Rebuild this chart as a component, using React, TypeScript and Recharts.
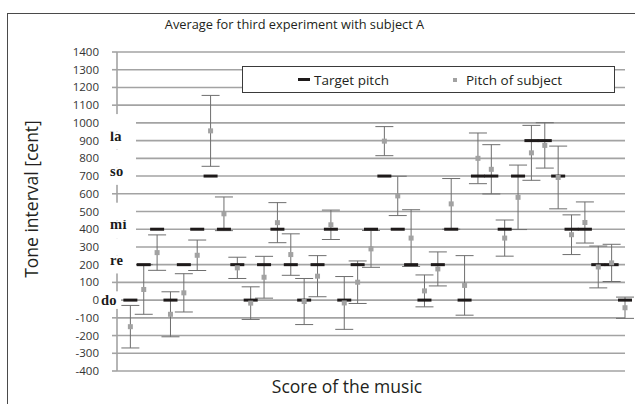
import {
  CartesianGrid,
  ComposedChart,
  ErrorBar,
  Legend,
  Scatter,
  XAxis,
  YAxis,
} from 'recharts'

// target pitch of each note in the score (cent)
const targetPitch = [
  0, 200, 400, 0, 200, 400, 700, 400, 200, 0, 200, 400, 200, 0, 200, 400, 0, 200,
  400, 700, 400, 200, 0, 200, 400, 0, 700, 700, 400, 700, 900, 900, 700, 400, 400,
  200, 200, 0,
]

// mean pitch sung by subject A (cent)
const subjectPitch = [
  -150, 60, 268, -80, 41, 253, 955, 487, 182, -17, 129, 437, 257, -8, 135, 425, -16,
  101, 289, 897, 588, 350, 52, 176, 543, 83, 800, 738, 350, 580, 831, 873, 692, 369,
  438, 187, 210, -43,
]

// spread of the subject's pitch (cent)
const subjectSpread = [
  120, 140, 100, 127, 108, 86, 200, 95, 60, 92, 118, 113, 117, 130, 116, 83, 149, 120,
  104, 82, 111, 160, 90, 96, 143, 168, 143, 139, 102, 182, 155, 128, 177, 112, 116,
  118, 105, 60,
]

const yTicks = [
  -400, -300, -200, -100, 0, 100, 200, 300, 400, 500, 600, 700, 800, 900, 1000, 1100,
  1200, 1300, 1400,
]

const solfegeNames = ['do', 're', 'mi', 'so', 'la']
const solfegeCents = [0, 200, 400, 700, 900]

const legendOrder = ['target', 'subject']

// ticks hidden behind the white text boxes of the original sheet
const hiddenTicks = new Set([0, 200, 300, 400, 500, 700, 800, 900, 1000])

const rows = targetPitch.map((t, i) => ({
  note: i + 1,
  target: t,
  subject: subjectPitch[i],
  spread: subjectSpread[i],
}))

const font = '"Open Sans", sans-serif'
const gridColor = '#a3a3a3'

function TargetMark(props: any) {
  const { cx, cy } = props
  return <rect x={cx - 7} y={cy - 1.5} width={14} height={3} fill="#1e1a1a" />
}

function SubjectMark(props: any) {
  const { cx, cy } = props
  return <rect x={cx - 2.5} y={cy - 2.5} width={5} height={5} fill="#a2a2a2" />
}

function CentTick(props: any) {
  const { x, y, payload } = props
  const v = payload.value as number
  const idx = solfegeCents.indexOf(v)
  const masked = hiddenTicks.has(v)
  return (
    <g>
      {masked && (
        <rect
          x={x + 2}
          y={y - 8.8}
          width={v === 0 ? 20 : 35}
          height={17.6}
          fill="#fff"
        />
      )}
      <text
        x={x}
        y={y}
        dy={4}
        textAnchor="end"
        fontFamily={font}
        fontSize={11.5}
        fill="#333"
      >
        {v}
      </text>
      {idx >= 0 && (
        <text
          x={v === 0 ? x + 2 : x + 11}
          y={v === 0 ? y + 4.5 : y}
          fontFamily='"Liberation Serif", serif'
          fontWeight="bold"
          fontSize={14.5}
          letterSpacing={0.3}
          fill="#1a1a1a"
        >
          {solfegeNames[idx]}
        </text>
      )}
    </g>
  )
}

function LegendBox(props: any) {
  const items = props.payload || []
  const ordered = legendOrder
    .map((k) => items.find((it: any) => it.dataKey === k))
    .filter(Boolean)
  return (
    <div
      style={{
        height: 27,
        boxSizing: 'border-box',
        border: '1.3px solid #3a3a3a',
        background: '#fff',
        display: 'flex',
        alignItems: 'center',
        paddingLeft: 55,
        fontFamily: font,
        fontSize: 13.5,
        color: '#231f20',
      }}
    >
      {ordered.map((item: any) =>
        item.dataKey === 'target' ? (
          <span key="t" style={{ display: 'flex', alignItems: 'center', width: 155 }}>
            <span style={{ width: 12, height: 3, background: '#1e1a1a', marginRight: 4 }} />
            {item.value}
          </span>
        ) : (
          <span key="s" style={{ display: 'flex', alignItems: 'center' }}>
            <span style={{ width: 4, height: 4, background: '#a2a2a2', marginRight: 9 }} />
            {item.value}
          </span>
        )
      )}
    </div>
  )
}

export default function App() {
  return (
    <div
      style={{
        position: 'absolute',
        left: 0,
        top: 0,
        width: 635,
        height: 404,
        overflow: 'hidden',
        background: '#fff',
      }}
    >
      <div
        style={{
          position: 'absolute',
          left: 7,
          top: 13,
          width: 700,
          height: 500,
          border: '1.4px solid #4a4a4a',
        }}
      />
      <div
        style={{
          position: 'absolute',
          left: 0,
          top: 0,
          width: 635,
          height: 404,
        }}
      >
        <ComposedChart
          width={635}
          height={404}
          data={rows}
          margin={{ top: 52, right: 10, bottom: 33, left: 0 }}
        >
          <CartesianGrid
            horizontal
            vertical={false}
            stroke={gridColor}
            strokeWidth={1.6}
          />
          <XAxis type="number" dataKey="note" domain={[0, 38]} hide />
          <YAxis
            type="number"
            domain={[-400, 1400]}
            ticks={yTicks}
            interval={0}
            width={117}
            tickSize={5}
            tickMargin={13}
            axisLine={{ stroke: gridColor, strokeWidth: 1.6 }}
            tickLine={{ stroke: gridColor, strokeWidth: 1.6 }}
            tick={<CentTick />}
          />
          <Legend
            layout="horizontal"
            verticalAlign="middle"
            align="center"
            content={<LegendBox />}
            wrapperStyle={{ left: 242, top: 66, width: 373 }}
          />
          <Scatter
            name="Target pitch"
            dataKey="target"
            shape={<TargetMark />}
            isAnimationActive={false}
          />
          <Scatter
            name="Pitch of subject"
            dataKey="subject"
            shape={<SubjectMark />}
            isAnimationActive={false}
          >
            <ErrorBar
              dataKey="spread"
              direction="y"
              width={9}
              stroke="#6e6e6e"
              strokeWidth={1}
            />
          </Scatter>
        </ComposedChart>
      </div>
      <div
        style={{
          position: 'absolute',
          left: 0,
          top: 15,
          width: 589,
          textAlign: 'center',
          fontFamily: font,
          fontSize: 12.8,
          lineHeight: '18px',
          color: '#231f20',
        }}
      >
        Average for third experiment with subject A
      </div>
      <div
        style={{
          position: 'absolute',
          left: -69,
          top: 187,
          width: 200,
          height: 24,
          lineHeight: '24px',
          textAlign: 'center',
          transform: 'rotate(-90deg)',
          fontFamily: font,
          fontSize: 17.5,
          color: '#231f20',
        }}
      >
        Tone interval [cent]
      </div>
      <div
        style={{
          position: 'absolute',
          left: 197,
          top: 374,
          width: 300,
          lineHeight: '24px',
          textAlign: 'center',
          fontFamily: font,
          fontSize: 17.5,
          color: '#231f20',
        }}
      >
        Score of the music
      </div>
    </div>
  )
}
